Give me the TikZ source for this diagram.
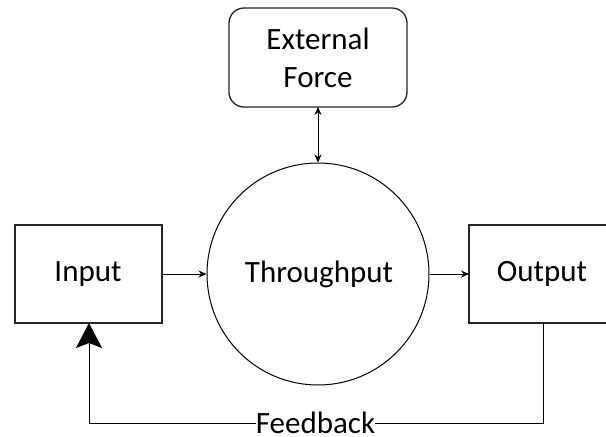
\documentclass[tikz,border=0pt]{standalone}
\usepackage{fontspec}
\setmainfont{Carlito}
\usetikzlibrary{arrows.meta}
\begin{document}
\begin{tikzpicture}[x=1pt,y=-1pt,
  txt/.style={font=\fontsize{31}{38}\selectfont, inner sep=0pt},
  boxst/.style={draw=black!85, line width=1.3pt},
  conn/.style={line width=1pt, -{Stealth[length=8pt,width=7pt]}}]
\clip (0,0) rectangle (606,437);
\fill[white] (0,0) rectangle (606,437);
% External Force
\draw[boxst, rounded corners=15pt] (229,8) rectangle (407,107);
\node[txt, align=center] (ext) at (318,58) {External\\Force};
\coordinate (extb) at (318,107);
% Circle
\node[draw, circle, line width=1pt, minimum size=222pt, inner sep=0pt] (thr) at (318,274) {};
\node[txt] (thrt) at (319,274) {Throughput};
% Input
\draw[boxst] (15,225) rectangle (162,323);
\node[txt] (inp) at (88,274) {Input};
\coordinate (inpr) at (162,274);
\coordinate (inpb) at (89,323);
% Output
\draw[boxst] (620,225) -- (469,225) -- (469,323) -- (620,323);
\node[txt] (out) at (542,274) {Output};
\coordinate (outl) at (469,274);
\coordinate (outb) at (543,323);
% Feedback label
\node[txt] (fb) at (315.5,423) {Feedback};
\coordinate (c1) at (543,423);
\coordinate (c2) at (89,423);
% connectors
\draw[line width=1pt, {Stealth[length=8pt,width=7pt]}-{Stealth[length=8pt,width=7pt]}] (extb) -- (thr.north);
\draw[conn] (inpr) -- (thr.west);
\draw[conn] (thr.east) -- (outl);
\draw[line width=1pt] (outb) -- (c1) -- (fb.east);
\draw[line width=1pt, -{Stealth[length=25pt,width=26pt,inset=5pt]}] (fb.west) -- (c2) -- (inpb);
\end{tikzpicture}
\end{document}
